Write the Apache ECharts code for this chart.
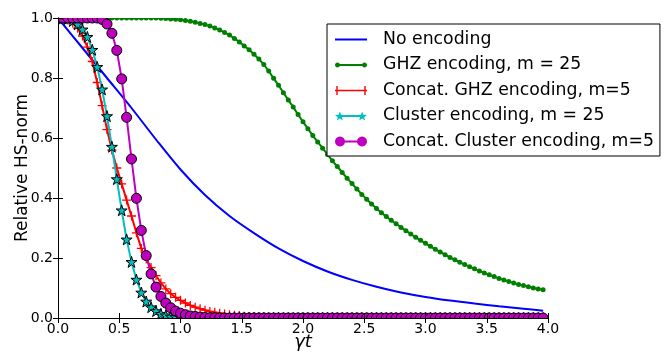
<!DOCTYPE html>
<html><head><meta charset="utf-8">
<script src="https://cdn.jsdelivr.net/npm/echarts@6/dist/echarts.min.js"></script>
<style>html,body{margin:0;padding:0;background:#fff}#c{width:670px;height:356px}</style>
</head><body><div id="c"></div><script>
// sample grid (gamma t), step 0.04
const tGrid = Array.from({length: 100}, (_, i) => +(i * 0.04).toFixed(2));

// No encoding (line only, coarse samples)
const tBlue = [0, 0.2, 0.4, 0.6, 0.8, 1.0, 1.2, 1.4, 1.6, 1.8, 2.0, 2.2, 2.4, 2.6, 2.8, 3.0, 3.2, 3.4, 3.6, 3.8, 3.96];
const noEnc = [1.0, 0.90, 0.80, 0.70, 0.595, 0.495, 0.41, 0.34, 0.283, 0.232, 0.19, 0.155, 0.127, 0.104, 0.085, 0.07, 0.058, 0.048, 0.039, 0.031, 0.024];

// GHZ encoding, m = 25
const ghz25 = [
 1,1,1,1,1,1,1,1,1,1, 1,1,1,1,1,1,1,1,1,1,
 1.0,0.999,0.998,0.997,0.996,0.994,0.992,0.989,0.986,0.982,
 0.978,0.973,0.967,0.960,0.952,0.943,0.932,0.920,0.907,0.894,
 0.879,0.863,0.845,0.823,0.799,0.776,0.751,0.727,0.703,0.678,
 0.654,0.631,0.608,0.587,0.566,0.545,0.524,0.505,0.485,0.466,
 0.448,0.430,0.412,0.396,0.380,0.365,0.351,0.338,0.326,0.314,
 0.302,0.291,0.280,0.269,0.259,0.249,0.239,0.229,0.220,0.211,
 0.202,0.194,0.186,0.178,0.171,0.164,0.157,0.150,0.144,0.138,
 0.132,0.127,0.122,0.117,0.112,0.108,0.104,0.100,0.097,0.094
];

// Concat. GHZ encoding, m=5
const ghzCat5 = [
 1.0,0.998,0.993,0.983,0.966,0.940,0.903,0.855,0.785,0.708,
 0.628,0.560,0.500,0.447,0.393,0.340,0.284,0.232,0.197,0.168,
 0.141,0.117,0.097,0.081,0.069,0.059,0.050,0.042,0.036,0.031,
 0.026,0.022,0.019,0.016,0.013,0.011,0.009,0.008,0.006,0.005,
 0.004,0.003,0.003,0.002,0.002,0.001,0.001,0.001,0,0,
 0,0,0,0,0,0,0,0,0,0, 0,0,0,0,0,0,0,0,0,0,
 0,0,0,0,0,0,0,0,0,0, 0,0,0,0,0,0,0,0,0,0,
 0,0,0,0,0,0,0,0,0,0
];

// Cluster encoding, m = 25
const cluster25 = [
 1.0,0.999,0.997,0.990,0.979,0.962,0.937,0.894,0.837,0.762,
 0.673,0.571,0.463,0.359,0.262,0.187,0.128,0.085,0.055,0.036,
 0.023,0.014,0.009,0.005,0.003,0.002,0.001,0.001,0,0,
 0,0,0,0,0,0,0,0,0,0, 0,0,0,0,0,0,0,0,0,0,
 0,0,0,0,0,0,0,0,0,0, 0,0,0,0,0,0,0,0,0,0,
 0,0,0,0,0,0,0,0,0,0, 0,0,0,0,0,0,0,0,0,0,
 0,0,0,0,0,0,0,0,0,0
];

// Concat. Cluster encoding, m=5
const clusterCat5 = [
 1,1,1,1,1,1,1,1,1,0.995,
 0.980,0.949,0.892,0.797,0.669,0.530,0.399,0.292,0.208,0.147,
 0.103,0.072,0.050,0.034,0.023,0.016,0.011,0.007,0.005,0.003,
 0.002,0.001,0.001,0,0,0,0,0,0,0,
 0,0,0,0,0,0,0,0,0,0, 0,0,0,0,0,0,0,0,0,0,
 0,0,0,0,0,0,0,0,0,0, 0,0,0,0,0,0,0,0,0,0,
 0,0,0,0,0,0,0,0,0,0, 0,0,0,0,0,0,0,0,0,0
];

const xTicks = [0, 0.5, 1, 1.5, 2, 2.5, 3, 3.5, 4];
const yTicks = [0, 0.2, 0.4, 0.6, 0.8, 1.0];

const names = ['No encoding', 'GHZ encoding, m = 25', 'Concat. GHZ encoding, m=5', 'Cluster encoding, m = 25', 'Concat. Cluster encoding, m=5'];

const G = {left: 58, top: 18, right: 122, bottom: 38};
const W = 670, H = 356;
const FONT = 'DejaVu Sans';

const pair = (xs, ys) => xs.map((x, i) => [x, ys[i]]);

const starPath = 'path://M50,0 L61.2,34.5 L97.6,34.5 L68.2,55.9 L79.4,90.5 L50,69.1 L20.6,90.5 L31.8,55.9 L2.4,34.5 L38.8,34.5 Z';
const plusPath = 'path://M0,4.3H10V5.7H0Z M4.3,0H5.7V10H4.3Z';

// legend icons: line with a marker at both ends (32 px wide)
const poly = (cx, cy, r, n, inner) => {
  let d = '';
  for (let k = 0; k < n; k++) {
    const a = -Math.PI / 2 + k * 2 * Math.PI / n;
    const rr = (inner && k % 2) ? r * inner : r;
    d += (k ? 'L' : 'M') + (cx + rr * Math.cos(a)).toFixed(2) + ',' + (cy + rr * Math.sin(a)).toFixed(2);
  }
  return d + 'Z';
};
const icons = [
  'path://M0,6H32V8H0Z',
  'path://M2.5,6H29.5V8H2.5Z' + poly(2.5, 7, 2.5, 16) + poly(29.5, 7, 2.5, 16),
  'path://M0,6.3H32V7.7H0Z M1.3,2.5H2.7V11.5H1.3Z M29.3,2.5H30.7V11.5H29.3Z',
  'path://M5,6H27V8H5Z' + poly(5, 7.4, 5, 10, 0.42) + poly(27, 7.4, 5, 10, 0.42),
  'path://M5,6H27V8H5Z' + poly(5, 7, 5, 24) + poly(27, 7, 5, 24)
];

const axisCommon = {
  axisLine: {show: true, lineStyle: {color: '#000', width: 1}},
  axisTick: {show: true, inside: true, length: 5, lineStyle: {color: '#000', width: 1}},
  splitLine: {show: false},
  nameMoveOverlap: false,
  z: 10
};

const chart = echarts.init(document.getElementById('c'), null, {renderer: 'canvas'});
chart.setOption({
  animation: false,
  backgroundColor: '#fff',
  grid: {left: G.left, top: G.top, right: G.right, bottom: G.bottom, containLabel: false, outerBoundsMode: 'none'},
  xAxis: [
    Object.assign({}, axisCommon, {
      type: 'value', position: 'bottom', min: xTicks[0], max: xTicks[xTicks.length - 1], interval: 0.5,
      name: 'γt', nameLocation: 'middle', nameGap: 15,
      nameTextStyle: {fontFamily: FONT, fontSize: 18, fontStyle: 'italic', color: '#000'},
      axisLabel: {fontFamily: FONT, fontSize: 14, color: '#000', margin: 4, formatter: v => v.toFixed(1)}
    }),
    Object.assign({}, axisCommon, {
      type: 'value', position: 'top', min: xTicks[0], max: xTicks[xTicks.length - 1], interval: 0.5,
      axisLabel: {show: false}
    })
  ],
  yAxis: [
    Object.assign({}, axisCommon, {
      type: 'value', position: 'left', min: yTicks[0], max: yTicks[yTicks.length - 1], interval: 0.2,
      name: 'Relative HS-norm', nameLocation: 'middle', nameGap: 27,
      nameTextStyle: {fontFamily: FONT, fontSize: 17, color: '#000'},
      axisLabel: {fontFamily: FONT, fontSize: 14, color: '#000', margin: 5, formatter: v => v.toFixed(1)}
    }),
    Object.assign({}, axisCommon, {
      type: 'value', position: 'right', min: yTicks[0], max: yTicks[yTicks.length - 1], interval: 0.2,
      axisLabel: {show: false}
    })
  ],
  legend: {
    orient: 'vertical', left: 327, top: 24,
    padding: [7, 6, 6, 8], itemGap: 8.5, itemWidth: 32, itemHeight: 14,
    backgroundColor: '#fff', borderColor: '#000', borderWidth: 1, borderRadius: 0,
    textStyle: {fontFamily: FONT, fontSize: 17.3, color: '#000', padding: [0, 0, 0, 11]},
    data: names.map((n, i) => ({name: n, icon: icons[i], itemStyle: {borderWidth: 0}})),
    z: 20
  },
  graphic: [
    {type: 'rect', silent: true, z: 5, shape: {x: 0, y: 0, width: W, height: G.top}, style: {fill: '#fff'}},
    {type: 'rect', silent: true, z: 5, shape: {x: 0, y: H - G.bottom, width: W, height: G.bottom}, style: {fill: '#fff'}},
    {type: 'rect', silent: true, z: 5, shape: {x: 0, y: 0, width: G.left, height: H}, style: {fill: '#fff'}},
    {type: 'rect', silent: true, z: 5, shape: {x: W - G.right, y: 0, width: G.right, height: H}, style: {fill: '#fff'}}
  ],
  series: [
    {name: names[0], type: 'line', data: pair(tBlue, noEnc), symbol: 'none', smooth: 0.3, z: 2,
     lineStyle: {color: '#0000ff', width: 2}, itemStyle: {color: '#0000ff'}},
    {name: names[1], type: 'line', data: pair(tGrid, ghz25), symbol: 'circle', symbolSize: 5, showAllSymbol: true, z: 3,
     lineStyle: {color: '#008000', width: 2}, itemStyle: {color: '#008000'}},
    {name: names[2], type: 'line', data: pair(tGrid, ghzCat5), symbol: plusPath, symbolSize: 9, showAllSymbol: true, z: 3.2,
     lineStyle: {color: '#ff0000', width: 2}, itemStyle: {color: '#ff0000'}},
    {name: names[3], type: 'line', data: pair(tGrid, cluster25), symbol: starPath, symbolSize: 11, showAllSymbol: true, z: 3.4,
     lineStyle: {color: '#00bfbf', width: 2}, itemStyle: {color: '#00bfbf', borderColor: '#000', borderWidth: 1}},
    {name: names[4], type: 'line', data: pair(tGrid, clusterCat5), symbol: 'circle', symbolSize: 10, showAllSymbol: true, z: 3.6,
     lineStyle: {color: '#bf00bf', width: 2}, itemStyle: {color: '#bf00bf', borderColor: '#000', borderWidth: 1}}
  ]
});
</script></body></html>
